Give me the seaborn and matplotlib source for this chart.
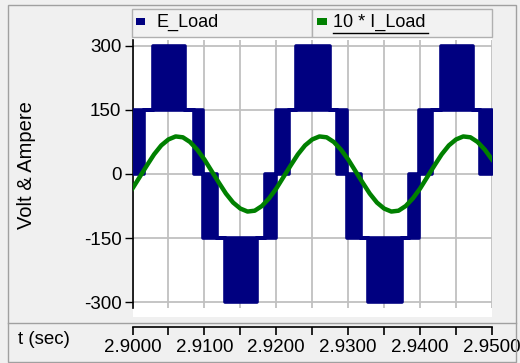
import numpy as np
import matplotlib
matplotlib.use("Agg")
import matplotlib.pyplot as plt
import seaborn as sns
from matplotlib.patches import Rectangle
from matplotlib.lines import Line2D

plt.rcParams['font.family'] = ['Liberation Sans', 'DejaVu Sans']

# ---------------- data ----------------
series_names = ["E_Load", "10 * I_Load"]

# 10 * I_Load sampled every 1 ms from 2.900 s to 2.950 s
current_t = np.linspace(2.900, 2.950, 51)
current_v = [-34, -7, 20, 46, 67, 81, 88, 86, 75, 57,
             34, 7, -20, -46, -67, -81, -88, -86, -75, -57,
             -34, -7, 20, 46, 67, 81, 88, 86, 75, 57,
             34, 7, -20, -46, -67, -81, -88, -86, -75, -57,
             -34, -7, 20, 46, 67, 81, 88, 86, 75, 57, 34]

# E_Load: PWM switching bands (segment edges, lower and upper switching level)
volt_edges = [2.9000, 2.9016, 2.90285, 2.90725, 2.90854,
              2.90986, 2.91174, 2.91285, 2.91729, 2.91840,
              2.92000, 2.92174, 2.92271, 2.92743, 2.92840,
              2.92982, 2.93174, 2.93271, 2.93743, 2.93840,
              2.93986, 2.94160, 2.94285, 2.94729, 2.94840,
              2.9500]
volt_low = [0, 150, 150, 150, 0,
            -150, -150, -300, -150, -150,
            0, 150, 150, 150, 0,
            -150, -150, -300, -150, -150,
            0, 150, 150, 150, 0]
volt_high = [150, 150, 300, 150, 150,
             0, -150, -150, -150, 0,
             150, 150, 300, 150, 150,
             0, -150, -150, -150, 0,
             150, 150, 300, 150, 150]

y_ticks = [-300, -150, 0, 150, 300]
x_major = [2.90, 2.91, 2.92, 2.93, 2.94, 2.95]
x_grid = [2.900, 2.905, 2.910, 2.915, 2.920, 2.925, 2.930, 2.935, 2.940, 2.945, 2.950]

# ---------------- figure ----------------
W, H = 520, 363
fig = plt.figure(figsize=(W / 100, H / 100), dpi=100)
fig.patch.set_facecolor('#f0f0f0')

def fx(px):
    return px / W

def fy(py):
    return 1 - py / H

def frect(x0, y0, x1, y1, **kw):
    r = Rectangle((fx(x0), fy(y1)), fx(x1) - fx(x0), fy(y0) - fy(y1),
                  transform=fig.transFigure, **kw)
    fig.add_artist(r)
    return r

def fline(xs, ys, **kw):
    l = Line2D([fx(v) for v in xs], [fy(v) for v in ys], transform=fig.transFigure, **kw)
    fig.add_artist(l)
    return l

NAVY = '#000080'
GREEN = '#008000'

# white plotting panel
frect(133, 38, 492, 317, facecolor='white', edgecolor='none', zorder=-5)

ax = fig.add_axes([fx(132.5), fy(308), (492 - 132.5) / W, (308 - 40) / H])
ax.set_facecolor('white')

# voltage bands
x_step = np.repeat(volt_edges, 2)[1:-1]
lo_step = np.repeat(volt_low, 2)
hi_step = np.repeat(volt_high, 2)
ax.fill_between(x_step, lo_step, hi_step, facecolor=NAVY, edgecolor=NAVY,
                linewidth=2.6, zorder=3)

# current
sns.lineplot(x=current_t, y=current_v, color=GREEN, linewidth=3.2, ax=ax,
             zorder=4, legend=False)

ax.set_xlim(2.90, 2.95)
ax.set_ylim(-314, 314)
ax.set_yticks(y_ticks)
ax.set_yticklabels([str(v) for v in y_ticks])
ax.set_xticks(x_grid)
ax.tick_params(axis='x', length=0, labelbottom=False)
ax.tick_params(axis='y', direction='out', length=6, width=1, labelsize=13.5,
               pad=2, colors='black')
ax.grid(True, color='#c0c0c0', linewidth=1.3)
ax.set_axisbelow(True)
for s in ['top', 'right', 'bottom']:
    ax.spines[s].set_visible(False)
ax.spines['left'].set_color('black')
ax.spines['left'].set_linewidth(1.2)
ax.set_xlabel('')
ax.set_ylabel('')

# separate time axis strip
ax2 = fig.add_axes([fx(132.5), fy(327), (492 - 132.5) / W, 0.0001])
ax2.set_xlim(2.90, 2.95)
ax2.patch.set_visible(False)
ax2.set_yticks([])
for s in ['top', 'right', 'left']:
    ax2.spines[s].set_visible(False)
ax2.spines['bottom'].set_color('black')
ax2.spines['bottom'].set_linewidth(1.2)
ax2.set_xticks(x_major)
ax2.set_xticklabels([f"{v:.4f}" for v in x_major])
ax2.set_xticks(x_grid, minor=True)
ax2.tick_params(axis='x', which='both', direction='out', length=6, width=1.2,
                labelsize=13.5, pad=3)

# axis titles
fig.text(fx(26), fy(165), 'Volt & Ampere', rotation=90, ha='center', va='center',
         fontsize=14.5)
fig.text(fx(18), fy(340), 't (sec)', ha='left', va='center', fontsize=13.5)

# legend cells
frect(132, 9, 312, 37, facecolor='#f2f2f2', edgecolor='#b0b0b0', linewidth=1)
frect(312, 9, 492, 37, facecolor='#f2f2f2', edgecolor='#b0b0b0', linewidth=1)
frect(136, 18, 145, 25, facecolor=NAVY, edgecolor='none')
frect(317, 18, 327, 25, facecolor=GREEN, edgecolor='none')
fig.text(fx(156), fy(22), series_names[0], ha='left', va='center', fontsize=13)
fig.text(fx(333), fy(22), series_names[1], ha='left', va='center', fontsize=13)
fline([333, 428], [33, 33], color='black', linewidth=1)

# outer frame and separator
frect(8, 5, 516, 362, facecolor='none', edgecolor='#a0a0a0', linewidth=1)
fline([8, 516], [323, 323], color='#a0a0a0', linewidth=1)

fig.savefig('out.png', dpi=100, facecolor=fig.get_facecolor())
